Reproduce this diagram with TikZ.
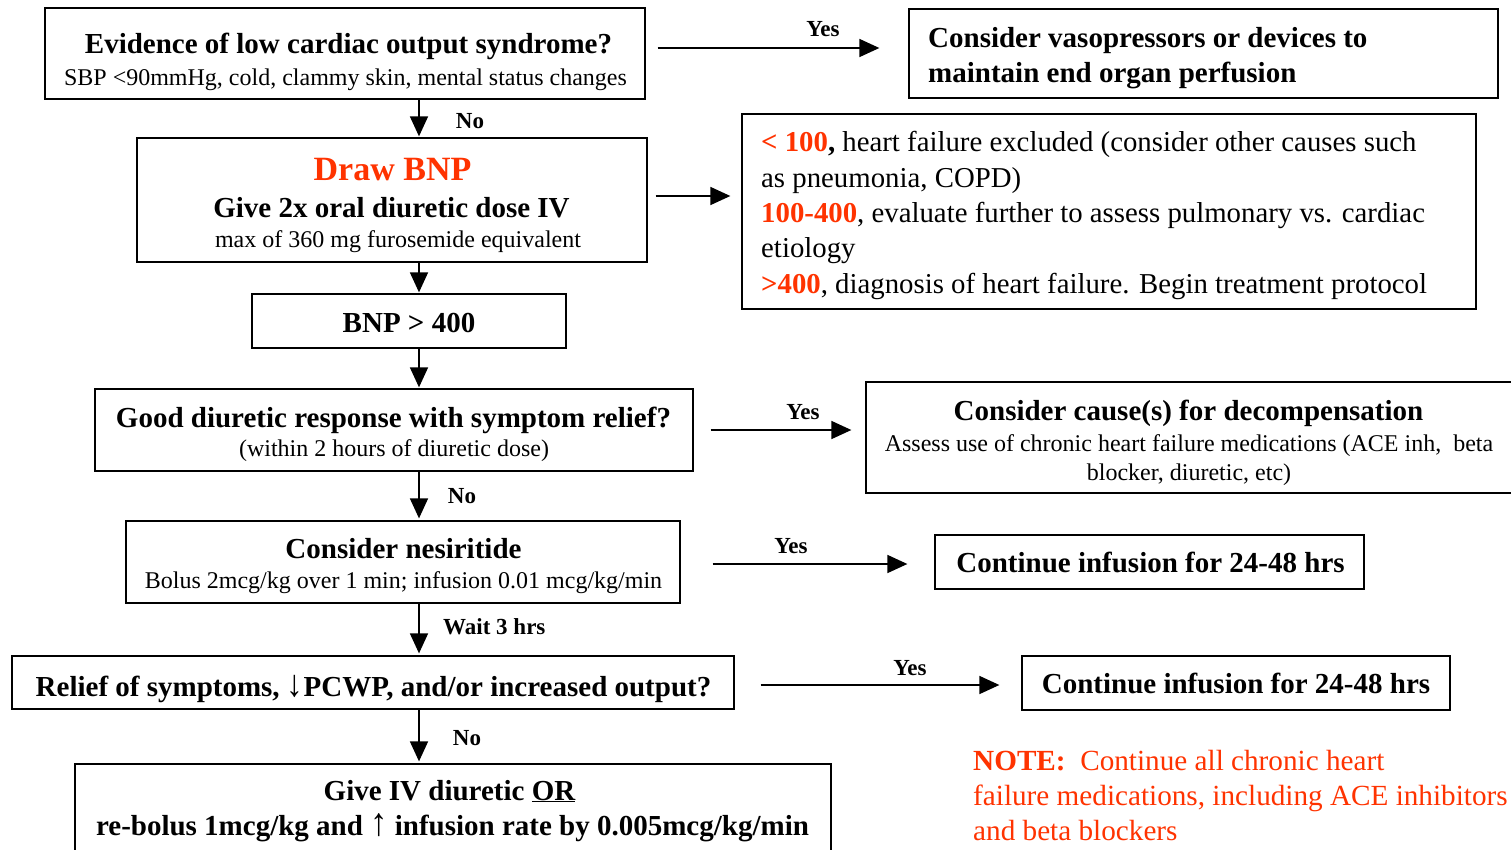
\documentclass[tikz,border=0pt]{standalone}
\usepackage{fontspec}
\setmainfont{Liberation Serif}
\usetikzlibrary{arrows.meta}
\definecolor{hfred}{RGB}{255,51,0}
\begin{document}
\begin{tikzpicture}[x=1pt,y=-1pt,
 box/.style={draw=black, line width=1.3pt, inner sep=0pt},
 arr/.style={line width=1.6pt, -{Triangle[length=20pt,width=18pt]}},
 ttl/.style={font=\bfseries\fontsize{29}{35}\selectfont, inner sep=0pt, anchor=base},
 sub/.style={font=\fontsize{24}{29}\selectfont, inner sep=0pt, anchor=base},
 lbl/.style={font=\bfseries\fontsize{23}{28}\selectfont, inner sep=0pt, anchor=base},
 txt/.style={font=\fontsize{28.8}{34}\selectfont, inner sep=0pt, anchor=base west},
 ttlw/.style={font=\bfseries\fontsize{29}{35}\selectfont, inner sep=0pt, anchor=base west},
]
\useasboundingbox (0,0) rectangle (1511,849);
\fill[white] (0,0) rectangle (1511,849);

% boxes
\node[box, minimum width=600pt, minimum height=91pt] (q1) at (345,53.5) {};
\node[box, minimum width=589pt, minimum height=89pt] (vaso) at (1203.5,53.5) {};
\node[box, minimum width=510pt, minimum height=124pt] (draw) at (392,200) {};
\node[box, minimum width=734pt, minimum height=195pt] (range) at (1109,211.5) {};
\node[box, minimum width=314pt, minimum height=54pt] (bnp) at (409,321) {};
\node[box, minimum width=598pt, minimum height=82pt] (good) at (394,430) {};
\node[box, minimum width=664pt, minimum height=111pt] (cause) at (1198,437.5) {};
\node[box, minimum width=554pt, minimum height=82pt] (nes) at (403,562) {};
\node[box, minimum width=429pt, minimum height=54pt] (cont1) at (1149.5,562) {};
\node[box, minimum width=722pt, minimum height=53pt] (relief) at (373,682.5) {};
\node[box, minimum width=428pt, minimum height=54pt] (cont2) at (1236,683) {};
\node[box, minimum width=756pt, minimum height=106pt] (final) at (453,817) {};

% texts
\node[ttl] (q1a) at (348.5,53) {Evidence of low cardiac output syndrome?};
\node[sub] (q1b) at (345.5,85) {SBP <90mmHg, cold, clammy skin, mental status changes};
\node[ttlw] (vasoa) at (928,47) {Consider vasopressors or devices to};
\node[ttlw] (vasob) at (928,82) {maintain end organ perfusion};
\node[ttl, font=\bfseries\fontsize{34}{40}\selectfont, text=hfred] (drawa) at (392.5,180) {Draw BNP};
\node[ttl] (drawb) at (391.5,217) {Give 2x oral diuretic dose IV};
\node[sub] (drawc) at (398,247) {max of 360 mg furosemide equivalent};
\node[txt] (rangea) at (761,151) {{\bfseries\color{hfred}< 100}{\bfseries ,} heart failure excluded (consider other causes such};
\node[txt] (rangeb) at (761,187) {as pneumonia, COPD)};
\node[txt] (rangec) at (761,222) {{\bfseries\color{hfred}100-400}, evaluate further to assess pulmonary vs. cardiac};
\node[txt] (ranged) at (761,257) {etiology};
\node[txt] (rangee) at (761,293) {{\bfseries\color{hfred}>400}, diagnosis of heart failure. Begin treatment protocol};
\node[ttl] (bnpa) at (409,332) {BNP > 400};
\node[ttl] (gooda) at (393.5,427) {Good diuretic response with symptom relief?};
\node[sub] (goodb) at (394,456) {(within 2 hours of diuretic dose)};
\node[ttl] (causea) at (1188.5,420) {Consider cause(s) for decompensation};
\node[sub] (causeb) at (1189,451) {Assess use of chronic heart failure medications (ACE inh,\ \ beta};
\node[sub] (causec) at (1189,480) {blocker, diuretic, etc)};
\node[ttl] (nesa) at (403.5,558) {Consider nesiritide};
\node[sub] (nesb) at (403.5,588) {Bolus 2mcg/kg over 1 min; infusion 0.01 mcg/kg/min};
\node[ttl] (cont1a) at (1150.5,572) {Continue infusion for 24-48 hrs};
\node[ttl] (reliefa) at (373.5,696) {Relief of symptoms, \smash{\scalebox{1.15}[1.3]{↓}}PCWP, and/or increased output?};
\node[ttl] (cont2a) at (1236,693) {Continue infusion for 24-48 hrs};
\node[ttl] (finala) at (449.5,800) {Give IV diuretic \underline{OR}};
\node[ttl] (finalb) at (452.5,835) {re-bolus 1mcg/kg and \smash{\scalebox{1.2}[1.35]{↑}} infusion rate by 0.005mcg/kg/min};
\node[txt, font=\fontsize{29.2}{35}\selectfont, text=hfred] (notea) at (973,770) {{\bfseries NOTE:}\ \ Continue all chronic heart};
\node[txt, font=\fontsize{29.2}{35}\selectfont, text=hfred] (noteb) at (973,805) {failure medications, including ACE inhibitors};
\node[txt, font=\fontsize{29.2}{35}\selectfont, text=hfred] (notec) at (973,840) {and beta blockers};

% connectors
\coordinate (sp) at (419,0);
\coordinate (r1) at (0,48);
\coordinate (r2) at (0,196);
\coordinate (r3) at (0,430);
\coordinate (r4) at (0,564);
\coordinate (r5) at (0,685);
\draw[arr, shorten >=1pt] (q1.south -| sp) -- (draw.north -| sp);
\draw[arr, shorten >=1pt] (draw.south -| sp) -- (bnp.north -| sp);
\draw[arr, shorten >=1pt] (bnp.south -| sp) -- (good.north -| sp);
\draw[arr, shorten >=2pt] (good.south -| sp) -- (nes.north -| sp);
\draw[arr, shorten >=2pt] (nes.south -| sp) -- (relief.north -| sp);
\draw[arr, shorten >=2pt] (relief.south -| sp) -- (final.north -| sp);
\draw[arr, shorten <=12pt, shorten >=29pt] (q1.east |- r1) -- (vaso.west |- r1);
\draw[arr, shorten <=8pt, shorten >=11pt] (draw.east |- r2) -- (range.west |- r2);
\draw[arr, shorten <=17pt, shorten >=14pt] (good.east |- r3) -- (cause.west |- r3);
\draw[arr, shorten <=32pt, shorten >=27pt] (nes.east |- r4) -- (cont1.west |- r4);
\draw[arr, shorten <=26pt, shorten >=22pt] (relief.east |- r5) -- (cont2.west |- r5);

% labels
\node[lbl] (y1) at (823,36) {Yes};
\node[lbl] (n1) at (470,128) {No};
\node[lbl] (y2) at (803,419) {Yes};
\node[lbl] (n2) at (462,503) {No};
\node[lbl] (y3) at (791,553) {Yes};
\node[lbl, anchor=base west] (w3) at (443,634) {Wait 3 hrs};
\node[lbl] (y4) at (910,675) {Yes};
\node[lbl] (n3) at (467,745) {No};
\end{tikzpicture}
\end{document}
